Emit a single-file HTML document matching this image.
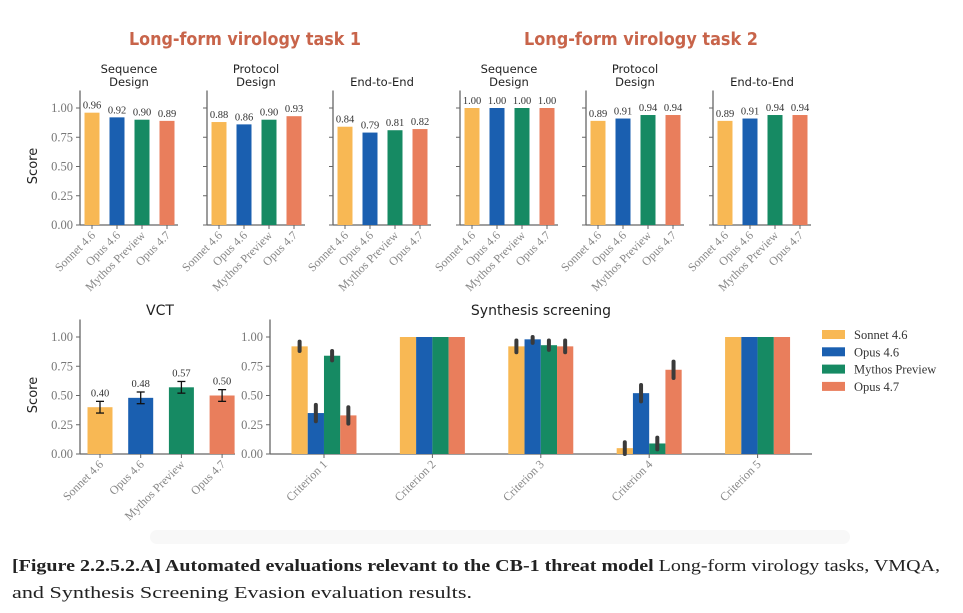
<!DOCTYPE html>
<html><head><meta charset="utf-8">
<style>
html,body{margin:0;padding:0;background:#fff;}
svg{display:block;}
.ttl{font-family:"DejaVu Sans","Liberation Sans",sans-serif;}
.ser{font-family:"Liberation Serif",serif;}
</style></head>
<body>
<svg id="chart" width="963" height="613" viewBox="0 0 963 613" xmlns="http://www.w3.org/2000/svg">
<rect x="150" y="530" width="700" height="14" rx="7" fill="#f8f8f8"/>
<text class="ttl" x="245" y="45" text-anchor="middle" font-size="18" font-weight="bold" fill="#c8644a" textLength="232" lengthAdjust="spacingAndGlyphs">Long-form virology task 1</text>
<text class="ttl" x="641" y="45" text-anchor="middle" font-size="18" font-weight="bold" fill="#c8644a" textLength="234" lengthAdjust="spacingAndGlyphs">Long-form virology task 2</text>
<text class="ttl" x="160" y="315" text-anchor="middle" font-size="14" fill="#222">VCT</text>
<text class="ttl" x="541" y="315" text-anchor="middle" font-size="14" fill="#222">Synthesis screening</text>
<text class="ttl" transform="translate(37,166) rotate(-90)" text-anchor="middle" font-size="13" fill="#222">Score</text>
<text class="ttl" transform="translate(37,395) rotate(-90)" text-anchor="middle" font-size="13" fill="#222">Score</text>
<g id="plots"></g>
<g id="legend"></g>
<text class="ser" x="12" y="571" font-size="17" fill="#222" textLength="928" lengthAdjust="spacingAndGlyphs"><tspan font-weight="bold">[Figure 2.2.5.2.A] Automated evaluations relevant to the CB-1 threat model</tspan> Long-form virology tasks, VMQA,</text>
<text class="ser" x="12" y="598" font-size="17" fill="#222" textLength="460" lengthAdjust="spacingAndGlyphs">and Synthesis Screening Evasion evaluation results.</text>
</svg>
<script>
const models = ["Sonnet 4.6","Opus 4.6","Mythos Preview","Opus 4.7"];
const colors = ["#f8b854","#1a5fb0","#168a63","#e97e5c"];
const yTicks = [0,0.25,0.5,0.75,1.0];
const yTickLabels = ["0.00","0.25","0.50","0.75","1.00"];
const panelTitles = [["Sequence","Design"],["Protocol","Design"],["End-to-End"],["Sequence","Design"],["Protocol","Design"],["End-to-End"]];
const panelValues = [[0.96,0.92,0.90,0.89],[0.88,0.86,0.90,0.93],[0.84,0.79,0.81,0.82],[1.00,1.00,1.00,1.00],[0.89,0.91,0.94,0.94],[0.89,0.91,0.94,0.94]];
const vctValues = [0.40,0.48,0.57,0.50];
const vctErr = [0.05,0.05,0.05,0.05];
const criteria = ["Criterion 1","Criterion 2","Criterion 3","Criterion 4","Criterion 5"];
const synthValues = [[0.92,0.35,0.84,0.33],[1,1,1,1],[0.92,0.98,0.93,0.92],[0.05,0.52,0.09,0.72],[1,1,1,1]];
const synthErr = [[0.04,0.07,0.04,0.07],[0,0,0,0],[0.05,0.03,0.04,0.05],[0.05,0.07,0.05,0.07],[0,0,0,0]];

const NS="http://www.w3.org/2000/svg";
const root=document.getElementById('plots');
function mk(tag,attrs,parent){const e=document.createElementNS(NS,tag);for(const k in attrs)e.setAttribute(k,attrs[k]);(parent||root).appendChild(e);return e;}
const axisCol="#666";
function yScale(y0){return v=>y0-v*117;}

function drawAxes(g,x0,x1,y,ticksLabels){
  mk('line',{x1:x0,y1:y(0),x2:x0,y2:y(1.15),stroke:axisCol,'stroke-width':1.3},g);
  mk('line',{x1:x0,y1:y(0),x2:x1,y2:y(0),stroke:axisCol,'stroke-width':1.3},g);
  yTicks.forEach((t,i)=>{
    mk('line',{x1:x0-4,y1:y(t),x2:x0,y2:y(t),stroke:axisCol,'stroke-width':1},g);
    if(ticksLabels){const tx=mk('text',{x:x0-7,y:y(t)+4,'text-anchor':'end','font-size':12.5,fill:'#777',class:'ser'},g);tx.textContent=yTickLabels[i];}
  });
}
function xLabel(g,cx,y,text){
  mk('line',{x1:cx,y1:y,x2:cx,y2:y+4,stroke:axisCol,'stroke-width':1},g);
  const t=mk('text',{transform:`translate(${cx+4},${y+11}) rotate(-45)`,'text-anchor':'end','font-size':12,fill:'#888',class:'ser'},g);
  t.textContent=text;
}

const panelX=[80,207,333,460,586,713];
panelValues.forEach((vals,p)=>{
  const g=mk('g',{});
  
  
  const x0=panelX[p], y=yScale(225);
  drawAxes(g,x0,x0+98,y,p===0);
  const tl=panelTitles[p];
  tl.forEach((line,i)=>{
    const t=mk('text',{x:x0+49,y:(tl.length===2?73:86)+i*13,'text-anchor':'middle','font-size':11.5,fill:'#222',class:'ttl'},g);
    t.textContent=line;
  });
  vals.forEach((v,i)=>{
    const cx=x0+12+i*25;
    const r=mk('rect',{x:cx-7.5,y:y(v),width:15,height:y(0)-y(v),fill:colors[i]},g);
    
    
    const lab=mk('text',{x:cx,y:y(v)-4,'text-anchor':'middle','font-size':10.5,fill:'#333',class:'ser'},g);
    lab.textContent=v.toFixed(2);
    xLabel(g,cx,y(0),models[i]);
  });
});

(function(){
  const g=mk('g',{});
  
  
  const x0=80,y=yScale(454);
  drawAxes(g,x0,235,y,true);
  vctValues.forEach((v,i)=>{
    const cx=100+i*40.7;
    const r=mk('rect',{x:cx-12.5,y:y(v),width:25,height:y(0)-y(v),fill:colors[i]},g);
    
    
    const e=vctErr[i];
    mk('line',{x1:cx,y1:y(v-e),x2:cx,y2:y(v+e),stroke:'#111','stroke-width':1.3},g);
    mk('line',{x1:cx-4,y1:y(v-e),x2:cx+4,y2:y(v-e),stroke:'#111','stroke-width':1.3},g);
    mk('line',{x1:cx-4,y1:y(v+e),x2:cx+4,y2:y(v+e),stroke:'#111','stroke-width':1.3},g);
    const lab=mk('text',{x:cx,y:y(v+e)-5,'text-anchor':'middle','font-size':10.5,fill:'#333',class:'ser'},g);
    lab.textContent=v.toFixed(2);
    xLabel(g,cx,y(0),models[i]);
  });
})();

(function(){
  const g=mk('g',{});
  
  
  const x0=270,y=yScale(454);
  drawAxes(g,x0,812,y,true);
  criteria.forEach((c,ci)=>{
    const gc=324+ci*108.4;
    synthValues[ci].forEach((v,i)=>{
      const cx=gc-24.4+i*16.25;
      const r=mk('rect',{x:cx-8.125,y:y(v),width:16.25,height:y(0)-y(v),fill:colors[i]},g);
      
      
      const e=synthErr[ci][i];
      if(e>0) mk('line',{x1:cx,y1:y(Math.max(0,v-e)),x2:cx,y2:y(Math.min(1.0,v+e)),stroke:'#3a3a3a','stroke-width':4,'stroke-linecap':'round'},g);
    });
    xLabel(g,gc,y(0),c);
  });
})();

const lg=document.getElementById('legend');
models.forEach((m,i)=>{
  const y=330+i*17.3;
  const r=mk('rect',{x:822,y:y,width:23,height:9,fill:colors[i]},lg);
  
  
  const t=mk('text',{x:854,y:y+9,'font-size':12.5,fill:'#333',class:'ser'},lg);
  
  
  t.textContent=m;
});
</script>
</body></html>
